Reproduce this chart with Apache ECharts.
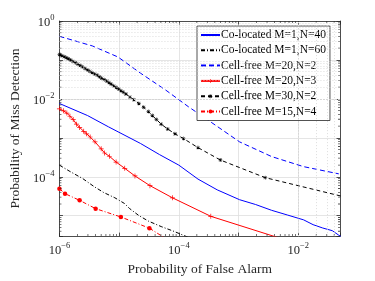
<!DOCTYPE html>
<html><head><meta charset="utf-8">
<script src="https://cdn.jsdelivr.net/npm/echarts@6/dist/echarts.min.js"></script>
<style>html,body{margin:0;padding:0;background:#fff}#c{width:375px;height:281px}</style>
</head><body><div id="c"></div>
<script>
// ---- data ----
const seriesNames = ['Co-located M=1,N=40','Co-located M=1,N=60','Cell-free M=20,N=2','Cell-free M=20,N=3','Cell-free M=30,N=2','Cell-free M=15,N=4'];
const xTickExps = [-6,-4,-2];
const yTickExps = [-4,-2,0];
const xRange = [1e-6, 0.05];
const yRange = [3e-6, 1];

const coLocated40 = [[1e-6,7.62e-3],[2.96e-6,3.73e-3],[6.61e-6,1.92e-3],[2.27e-5,7.19e-4],[4.75e-5,3.71e-4],[1.0e-4,1.99e-4],[2.09e-4,8.73e-5],[4.39e-4,4.62e-5],[1.04e-3,2.58e-5],[1.93e-3,1.94e-5],[3.57e-3,1.38e-5],[6.63e-3,1.04e-5],[1.23e-2,7.83e-6],[1.77e-2,5.90e-6],[2.57e-2,4.84e-6],[3.72e-2,4.13e-6],[4.77e-2,3.16e-6],[5.74e-2,2.67e-6]];
const coLocated60 = [[1e-6,1.99e-4],[1.50e-6,1.37e-4],[2.46e-6,8.97e-5],[3.80e-6,5.61e-5],[5.50e-6,3.95e-5],[8.48e-6,2.89e-5],[1.23e-5,2.06e-5],[1.48e-5,1.55e-5],[2.14e-5,1.01e-5],[3.09e-5,7.28e-6],[5.06e-5,5.27e-6],[8.28e-5,3.97e-6],[1.13e-4,3.25e-6],[1.85e-4,2.38e-6]];
const cellFree20x2 = [[1e-6,0.404],[3.56e-6,0.229],[9.57e-6,0.119],[2.27e-5,4.6e-2],[6.1e-5,1.66e-2],[1.44e-4,6.32e-3],[3.43e-4,2.55e-3],[1.04e-3,7.88e-4],[3.57e-3,3.31e-4],[1.23e-2,1.82e-4],[4.77e-2,1.19e-4]];
const cellFree20x3 = [[1.0e-6,5.55e-3],[1.17e-6,4.95e-3],[1.33e-6,4.32e-3],[1.50e-6,3.58e-3],[1.70e-6,2.97e-3],[1.93e-6,2.24e-3],[2.18e-6,1.85e-3],[2.55e-6,1.47e-3],[2.85e-6,1.27e-3],[3.27e-6,1.05e-3],[3.94e-6,7.88e-4],[5.00e-6,5.21e-4],[5.70e-6,4.08e-4],[6.86e-6,3.37e-4],[8.89e-6,2.39e-4],[1.24e-5,1.65e-4],[1.84e-5,1.05e-4],[3.28e-5,5.93e-5],[7.80e-5,2.89e-5],[3.43e-4,9.66e-6],[1.08e-2,1.81e-6]];
const cellFree30x2 = [[1.0e-6,0.138],[1.04e-6,0.135],[1.10e-6,0.128],[1.20e-6,0.1205],[1.30e-6,0.114],[1.41e-6,0.1076],[1.54e-6,0.100],[1.68e-6,9.18e-2],[1.85e-6,8.45e-2],[2.04e-6,7.80e-2],[2.23e-6,7.2e-2],[2.43e-6,6.65e-2],[2.68e-6,6.05e-2],[2.96e-6,5.55e-2],[3.22e-6,5.12e-2],[3.52e-6,4.73e-2],[3.90e-6,4.36e-2],[4.29e-6,4.04e-2],[4.68e-6,3.70e-2],[5.10e-6,3.40e-2],[5.62e-6,3.12e-2],[6.21e-6,2.87e-2],[6.75e-6,2.62e-2],[7.38e-6,2.39e-2],[8.12e-6,2.16e-2],[8.98e-6,1.96e-2],[9.80e-6,1.79e-2],[1.07e-5,1.63e-2],[1.18e-5,1.48e-2],[1.30e-5,1.34e-2],[1.52e-5,1.11e-2],[1.77e-5,9.55e-3],[2.14e-5,7.62e-3],[2.57e-5,6.07e-3],[3.09e-5,4.75e-3],[3.59e-5,3.73e-3],[4.21e-5,2.97e-3],[5.06e-5,2.24e-3],[6.49e-5,1.69e-3],[8.59e-5,1.27e-3],[1.20e-4,9.55e-4],[2.09e-4,5.61e-4],[4.97e-4,2.69e-4],[2.79e-3,9.51e-5],[0.1,2.51e-5]];
const cellFree15x4 = [[1e-6,4.95e-5],[1.24e-6,3.69e-5],[2.18e-6,2.48e-5],[4.04e-6,1.52e-5],[1.07e-5,9.29e-6],[3.21e-5,4.79e-6],[8.81e-5,1.79e-6]];

// ---- styling ----
const FONT = '"Liberation Serif", "DejaVu Serif", serif';
const AX = '#262626';
const plusPath = 'path://M4.3,0h1.4v4.3h4.3v1.4h-4.3v4.3h-1.4v-4.3h-4.3v-1.4h4.3z';
const starPath = 'path://M4.4,0h1.2v4.4h4.4v1.2h-4.4v4.4h-1.2v-4.4h-4.4v-1.2h4.4z M1.5,0.7l7.8,7.8l-0.8,0.8l-7.8,-7.8z M8.5,0.7l0.8,0.8l-7.8,7.8l-0.8,-0.8z';

function powLabeler(exps) {
  return function (v) {
    const l = Math.log10(v), e = Math.round(l);
    if (Math.abs(l - e) > 1e-6 || exps.indexOf(e) < 0) return '';
    return '{b|10}{s|' + String(e).replace('-', '\u2212') + '}';
  };
}
const richLab = {
  b: {fontFamily: FONT, fontSize: 12.5, color: AX, verticalAlign: 'bottom', lineHeight: 16},
  s: {fontFamily: FONT, fontSize: 8.5, color: AX, verticalAlign: 'top', lineHeight: 10}
};
function minorVals(lo, hi) {
  const out = [];
  for (let e = Math.floor(Math.log10(lo)); e <= Math.ceil(Math.log10(hi)); e++) {
    for (let m = 2; m <= 9; m++) { const v = m * Math.pow(10, e); if (v > lo * 1.0001 && v < hi * 0.9999) out.push(v); }
  }
  return out;
}
const xMinor = minorVals(xRange[0], xRange[1]);
const yMinor = minorVals(yRange[0], yRange[1]);
const minorGrid = xMinor.map(v => ({xAxis: v})).concat(yMinor.map(v => ({yAxis: v})));

function tickSeries(data, size, offset) {
  return {type: 'scatter', data: data, symbol: 'rect', symbolSize: size, symbolOffset: offset,
    itemStyle: {color: AX}, silent: true, clip: false, z: 4, emphasis: {disabled: true}};
}

function baseAxis(extra) {
  return Object.assign({
    type: 'log', logBase: 10,
    axisLine: {show: true, onZero: false, lineStyle: {color: AX, width: 0.8}},
    axisTick: {show: true, inside: true, length: 3.5, lineStyle: {color: AX, width: 0.8}},
    splitLine: {show: false},
    axisLabel: {show: false}
  }, extra);
}
const hideSym = {color: 'rgba(0,0,0,0)', borderColor: 'rgba(0,0,0,0)', borderWidth: 0};

const chart = echarts.init(document.getElementById('c'), null, {renderer: 'canvas'});
chart.setOption({
  animation: false,
  backgroundColor: '#fff',
  grid: {left: 49, right: 35, top: 21, bottom: 37},
  xAxis: [
    baseAxis({min: xRange[0], max: xRange[1], position: 'bottom',
      splitLine: {show: true, lineStyle: {color: '#dedede', width: 0.8}},
      axisLabel: {show: true, margin: 5, formatter: powLabeler(xTickExps), rich: richLab},
      name: 'Probability of False Alarm', nameLocation: 'middle', nameGap: 22,
      nameTextStyle: {fontFamily: FONT, fontSize: 13.5, color: AX}}),
    baseAxis({min: xRange[0], max: xRange[1], position: 'top'})
  ],
  yAxis: [
    baseAxis({min: yRange[0], max: yRange[1], position: 'left',
      splitLine: {show: true, lineStyle: {color: '#dedede', width: 0.8}},
      axisLabel: {show: true, margin: 5, formatter: powLabeler(yTickExps), rich: richLab},
      name: 'Probability of Miss Detection', nameLocation: 'middle', nameGap: 33,
      nameTextStyle: {fontFamily: FONT, fontSize: 13.5, color: AX}}),
    baseAxis({min: yRange[0], max: yRange[1], position: 'right'})
  ],
  legend: {
    data: [
      {name: seriesNames[0], itemStyle: hideSym},
      {name: seriesNames[1], itemStyle: hideSym},
      {name: seriesNames[2], itemStyle: hideSym},
      {name: seriesNames[3]},
      {name: seriesNames[4]},
      {name: seriesNames[5]}
    ],
    orient: 'vertical', left: 197, top: 26,
    itemWidth: 19, itemHeight: 5, itemGap: 3.3, padding: [3, 4, 3, 3],
    backgroundColor: '#fff', borderColor: AX, borderWidth: 0.8, borderRadius: 0,
    textStyle: {fontFamily: FONT, fontSize: 11.5, color: '#000', lineHeight: 10, padding: [0, 0, 0, -4]}
  },
  series: [
    {name: 'minor-grid', type: 'line', data: [], silent: true, z: 1,
      markLine: {silent: true, animation: false, symbol: ['none', 'none'], label: {show: false},
        lineStyle: {type: [1, 2], color: '#d4d4d4', width: 0.8}, emphasis: {disabled: true}, data: minorGrid}},
    tickSeries(xMinor.map(v => [v, yRange[0]]), [0.8, 2], [0, -1]),
    tickSeries(xMinor.map(v => [v, yRange[1]]), [0.8, 2], [0, 1]),
    tickSeries(yMinor.map(v => [xRange[0], v]), [2, 0.8], [1, 0]),
    tickSeries(yMinor.map(v => [xRange[1], v]), [2, 0.8], [-1, 0]),
    {name: seriesNames[0], type: 'line', data: coLocated40, symbol: 'none', z: 3,
      lineStyle: {color: '#0000ff', width: 1}, itemStyle: {color: '#0000ff'}},
    {name: seriesNames[1], type: 'line', data: coLocated60, symbol: 'none', z: 3,
      lineStyle: {color: '#000', width: 1, type: [4, 2, 1, 2]}, itemStyle: {color: '#000'}},
    {name: seriesNames[2], type: 'line', data: cellFree20x2, symbol: 'none', z: 3,
      lineStyle: {color: '#0000ff', width: 1, type: [5, 3]}, itemStyle: {color: '#0000ff'}},
    {name: seriesNames[3], type: 'line', data: cellFree20x3, symbol: plusPath, symbolSize: 5, z: 3,
      lineStyle: {color: '#ff0000', width: 1}, itemStyle: {color: '#ff0000'}},
    {name: seriesNames[4], type: 'line', data: cellFree30x2, symbol: starPath, symbolSize: 4, z: 3,
      lineStyle: {color: '#000', width: 1, type: [4, 3]}, itemStyle: {color: '#000'}},
    {name: seriesNames[5], type: 'line', data: cellFree15x4, symbol: 'circle', symbolSize: 4.5, z: 3,
      lineStyle: {color: '#ff0000', width: 1, type: [4, 2, 1, 2]}, itemStyle: {color: '#ff0000'}}
  ]
});
</script></body></html>
